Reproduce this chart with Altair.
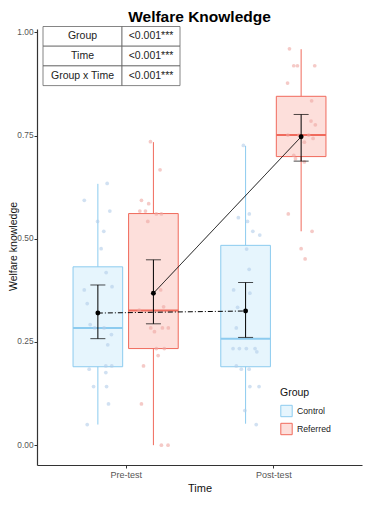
import altair as alt
import pandas as pd

# ---------------- data ----------------
groups = ["Control", "Referred"]
times = ["Pre-test", "Post-test"]

# box / summary statistics (order: Control Pre, Referred Pre, Control Post, Referred Post)
box_group = ["Control", "Referred", "Control", "Referred"]
box_time = ["Pre-test", "Pre-test", "Post-test", "Post-test"]
whisk_lo = [0.050, 0.000, 0.052, 0.518]
q1 = [0.190, 0.234, 0.190, 0.699]
median = [0.284, 0.326, 0.258, 0.751]
q3 = [0.432, 0.561, 0.484, 0.845]
whisk_hi = [0.633, 0.734, 0.725, 0.959]
mean = [0.320, 0.368, 0.325, 0.747]
se_lo = [0.258, 0.294, 0.261, 0.688]
se_hi = [0.388, 0.449, 0.394, 0.801]

ctrl_pre_val = [0.634, 0.593, 0.567, 0.542, 0.518, 0.476, 0.418, 0.384, 0.376, 0.343, 0.292, 0.284,
                0.284, 0.268, 0.243, 0.192, 0.192, 0.184, 0.176, 0.142, 0.142, 0.100, 0.050]
ctrl_pre_jit = [0.063, -0.092, 0.081, -0.002, 0.040, 0.022, 0.056, 0.096, -0.092, -0.072, -0.052, -0.022,
                0.042, 0.092, 0.067, 0.054, 0.094, -0.059, 0.054, -0.029, 0.059, 0.072, -0.072]
ref_pre_val = [0.735, 0.667, 0.593, 0.585, 0.567, 0.567, 0.560, 0.560, 0.542, 0.376, 0.335, 0.327,
               0.284, 0.284, 0.284, 0.275, 0.234, 0.234, 0.217, 0.192, 0.100, 0.000, 0.000]
ref_pre_jit = [-0.020, 0.045, -0.081, -0.032, -0.092, -0.054, 0.020, 0.054, -0.038, 0.049, 0.069, -0.096,
               -0.018, 0.061, 0.101, 0.007, 0.020, 0.074, 0.032, -0.067, -0.081, 0.054, 0.099]
ctrl_post_val = [0.726, 0.560, 0.551, 0.542, 0.518, 0.509, 0.475, 0.426, 0.376, 0.368, 0.334, 0.284,
                 0.234, 0.234, 0.234, 0.234, 0.226, 0.192, 0.184, 0.184, 0.142, 0.142, 0.084, 0.050]
ctrl_post_jit = [-0.015, 0.025, -0.049, 0.013, 0.049, 0.096, 0.007, 0.024, -0.081, 0.029, -0.054, -0.063,
                 -0.085, -0.042, 0.005, 0.064, 0.076, -0.063, -0.029, 0.024, 0.029, 0.091, -0.005, 0.072]
ref_post_val = [0.960, 0.919, 0.919, 0.919, 0.877, 0.834, 0.785, 0.776, 0.751, 0.751, 0.751, 0.743,
                0.734, 0.702, 0.694, 0.686, 0.560, 0.518, 0.476, 0.451]
ref_post_jit = [-0.079, -0.050, -0.025, 0.092, -0.092, 0.071, 0.067, 0.096, -0.090, -0.016, 0.051, 0.081,
                0.022, -0.050, -0.038, 0.022, -0.087, 0.074, 0.000, 0.027]

# ANOVA table
table_terms = ["Group", "Time", "Group x Time"]
table_p = ["<0.001***", "<0.001***", "<0.001***"]

# ---------------- frames ----------------
box_df = pd.DataFrame({
    "group": box_group, "time": box_time, "lo": whisk_lo, "q1": q1, "med": median,
    "q3": q3, "hi": whisk_hi, "mean": mean, "se_lo": se_lo, "se_hi": se_hi,
})

pts = []
for g, t, vals, jits in [("Control", "Pre-test", ctrl_pre_val, ctrl_pre_jit),
                         ("Referred", "Pre-test", ref_pre_val, ref_pre_jit),
                         ("Control", "Post-test", ctrl_post_val, ctrl_post_jit),
                         ("Referred", "Post-test", ref_post_val, ref_post_jit)]:
    for v, j in zip(vals, jits):
        pts.append({"group": g, "time": t, "value": v, "jit": j})
pts_df = pd.DataFrame(pts)

tab_df = pd.DataFrame({"term": table_terms, "p": table_p, "row": list(range(len(table_terms)))})

FONT = "Liberation Sans"
ctrl_stroke, ref_stroke = "#8ccbef", "#f06a5c"
ctrl_fill, ref_fill = "#e6f5fd", "#fddfdb"
ctrl_pt, ref_pt = "#b3cde9", "#eea7a1"

pos_expr = (f"(datum.time == '{times[0]}' ? 1 : 2) + "
            f"(datum.group == '{groups[0]}' ? -0.188 : 0.188)")
HALF = 0.168

xscale = alt.Scale(domain=[0.4, 2.6], nice=False, zero=False)
yscale = alt.Scale(domain=[-0.048, 1.008], nice=False, zero=False)

xaxis = alt.Axis(values=[1, 2], labelExpr=f"datum.value == 1 ? '{times[0]}' : '{times[1]}'",
                 title="Time", grid=False)
yaxis = alt.Axis(values=[0, 0.25, 0.5, 0.75, 1.0], format=".2f", title="Welfare knowledge",
                 grid=False, titleX=-20.5, titleY=217, titleAngle=270, titleAlign="center",
                 titleBaseline="alphabetic")

legend = alt.Legend(title="Group", orient="none", legendX=243, legendY=359,
                    symbolType="square", symbolSize=130, symbolStrokeWidth=1,
                    rowPadding=1, titlePadding=6, labelFontSize=8.7,
                    titleFontSize=10.5, labelFont=FONT, titleFont=FONT,
                    titleFontWeight="normal", labelColor="#222", titleColor="#111")
stroke_enc = alt.Stroke("group:N", scale=alt.Scale(domain=groups, range=[ctrl_stroke, ref_stroke]),
                        legend=legend)
fill_enc = alt.Fill("group:N", scale=alt.Scale(domain=groups, range=[ctrl_fill, ref_fill]),
                    legend=legend)

base = alt.Chart(box_df).transform_calculate(pos=pos_expr).transform_calculate(
    xlo=f"datum.pos - {HALF}", xhi=f"datum.pos + {HALF}", series="'s_' + datum.group")

whiskers = base.mark_rule(strokeWidth=1).encode(
    x=alt.X("pos:Q", scale=xscale, axis=xaxis),
    y=alt.Y("lo:Q", scale=yscale, axis=yaxis),
    y2="hi:Q",
    stroke=stroke_enc,
)
boxes = base.mark_rect(strokeWidth=1).encode(
    x="xlo:Q", x2="xhi:Q", y="q1:Q", y2="q3:Q", fill=fill_enc, stroke=stroke_enc,
)
medians = base.mark_rule(strokeWidth=2).encode(
    x="xlo:Q", x2="xhi:Q", y="med:Q", stroke=stroke_enc,
)

points = alt.Chart(pts_df).transform_calculate(pos=pos_expr).transform_calculate(
    px="datum.pos + datum.jit", pg="'p_' + datum.group").mark_circle(size=14, opacity=0.6).encode(
    x="px:Q", y="value:Q",
    color=alt.Color("pg:N", scale=alt.Scale(domain=["p_" + g for g in groups], range=[ctrl_pt, ref_pt]),
                    legend=None),
)

lines = base.mark_line(color="black", strokeWidth=1).encode(
    x="pos:Q", y="mean:Q", detail="series:N",
    strokeDash=alt.StrokeDash("series:N",
                              scale=alt.Scale(domain=["s_" + g for g in groups],
                                              range=[[5, 2, 1, 2], [1, 0]]),
                              legend=None),
)
err = base.mark_rule(color="black", strokeWidth=1).encode(x="pos:Q", y="se_lo:Q", y2="se_hi:Q")
cap_lo = base.mark_tick(color="black", orient="horizontal", size=15, thickness=1).encode(
    x="pos:Q", y="se_lo:Q")
cap_hi = base.mark_tick(color="black", orient="horizontal", size=15, thickness=1).encode(
    x="pos:Q", y="se_hi:Q")
mean_pts = base.mark_circle(color="black", size=24, opacity=1).encode(x="pos:Q", y="mean:Q")

# ANOVA table (pixel layout inside the view)
ROW_H, TOP, C0, C1, C2 = 19.7, -2.5, 6, 85, 143
tab = alt.Chart(tab_df).transform_calculate(
    y0=f"{TOP} + datum.row * {ROW_H}", y1=f"{TOP} + (datum.row + 1) * {ROW_H}",
    ym=f"{TOP} + (datum.row + 0.5) * {ROW_H}")
cell1 = tab.mark_rect(fill="white", stroke="#666", strokeWidth=0.8).encode(
    x=alt.X("c0:Q", scale=None, axis=None), x2="c1:Q",
    y=alt.Y("y0:Q", scale=None, axis=None), y2="y1:Q",
).transform_calculate(c0=f"{C0}", c1=f"{C1}")
cell2 = tab.mark_rect(fill="white", stroke="#666", strokeWidth=0.8).encode(
    x=alt.X("c0:Q", scale=None, axis=None), x2="c1:Q",
    y=alt.Y("y0:Q", scale=None, axis=None), y2="y1:Q",
).transform_calculate(c0=f"{C1}", c1=f"{C2}")
text1 = tab.mark_text(font=FONT, fontSize=10.5, color="#222", align="center", baseline="middle").encode(
    x=alt.X("cx:Q", scale=None, axis=None), y=alt.Y("ym:Q", scale=None, axis=None), text="term:N",
).transform_calculate(cx=f"({C0} + {C1}) / 2")
text2 = tab.mark_text(font=FONT, fontSize=10.5, color="#222", align="center", baseline="middle").encode(
    x=alt.X("cx:Q", scale=None, axis=None), y=alt.Y("ym:Q", scale=None, axis=None), text="p:N",
).transform_calculate(cx=f"({C1} + {C2}) / 2")

chart = alt.layer(
    whiskers, boxes, medians, points, lines, err, cap_lo, cap_hi, mean_pts,
    cell1, cell2, text1, text2,
).properties(
    width=325, height=436,
    title=alt.TitleParams("Welfare Knowledge", fontSize=15.5, fontWeight="bold", font=FONT,
                          anchor="middle", offset=1, color="black"),
    autosize=alt.AutoSizeParams(type="none"),
    padding={"left": 29, "top": 21, "right": 3, "bottom": 27},
).configure_view(stroke=None).configure_axis(
    labelFont=FONT, titleFont=FONT, domainColor="#333", domainWidth=1.2, tickColor="#333",
    tickSize=3, labelColor="#555", titleColor="#111", titleFontWeight="normal",
).configure_axisX(labelFontSize=9, titleFontSize=11, labelPadding=2, titlePadding=3).configure_axisY(
    labelFontSize=8.3, titleFontSize=10.5, labelPadding=1)

chart.save("out.html", embed_options={"renderer": "svg", "actions": False})
